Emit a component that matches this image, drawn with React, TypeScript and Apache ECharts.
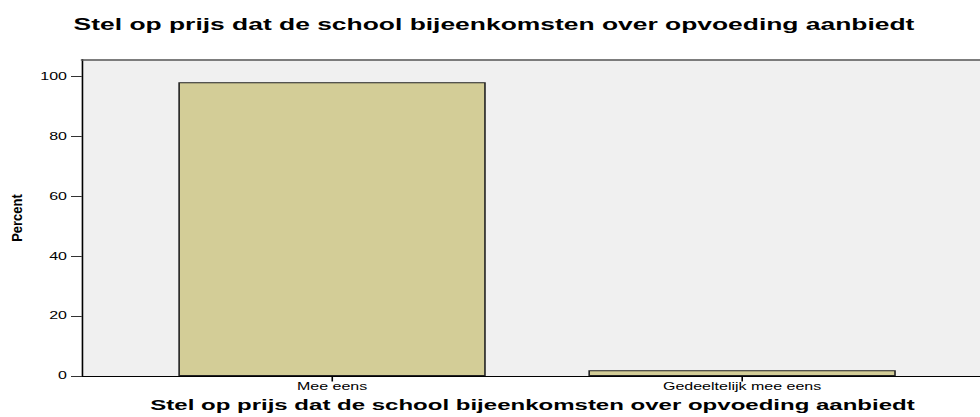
import React, { useEffect, useRef } from "react";
import * as echarts from "echarts";

const categories = ["Mee eens", "Gedeeltelijk mee eens"];
const categoryPositions = [0, 1];
const percentValues = [98.1, 1.9];
const yTicks = [0, 20, 40, 60, 80, 100];
const titleText = "Stel op prijs dat de school bijeenkomsten over opvoeding aanbiedt";
const yAxisName = "Percent";

const SX = 980 / 612;
const INNER_W = 620;
const H = 417;
const FONT = '"Liberation Sans", Arial, Helvetica, sans-serif';
const X_MIN = -0.6103;
const X_MAX = 1.588;

export default function App() {
  const ref = useRef<HTMLDivElement>(null);
  useEffect(() => {
    if (!ref.current) return;
    const chart = echarts.init(ref.current, undefined, { renderer: "svg" });
    chart.setOption({
      animation: false,
      backgroundColor: "#ffffff",
      textStyle: { fontFamily: FONT },
      grid: {
        left: 51.08,
        right: 6,
        top: 59.5,
        bottom: 39.3,
        show: true,
        backgroundColor: "#f0f0f0",
        borderWidth: 0,
      },
      xAxis: [
        {
          type: "value",
          min: X_MIN,
          max: X_MAX,
          splitLine: { show: false },
          axisLine: { show: true, onZero: false, lineStyle: { color: "#000", width: 1 } },
          axisTick: {
            show: true,
            customValues: categoryPositions,
            length: 5.5,
            lineStyle: { color: "#000", width: 1 },
          },
          axisLabel: {
            customValues: categoryPositions,
            formatter: (v: number) => categories[Math.round(v)] ?? "",
            fontSize: 10,
            color: "#000",
            margin: 6,
            fontFamily: FONT,
          },
          name: titleText,
          nameLocation: "middle",
          nameGap: 21,
          nameTextStyle: { fontSize: 15, fontWeight: "bold", color: "#000", fontFamily: FONT },
        },
        {
          type: "value",
          position: "top",
          min: X_MIN,
          max: X_MAX,
          splitLine: { show: false },
          axisLine: { show: true, onZero: false, lineStyle: { color: "#555", width: 1.5 } },
          axisTick: { show: false },
          axisLabel: { show: false },
        },
      ],
      yAxis: {
        type: "value",
        min: 0,
        max: 105.7,
        interval: 20,
        splitLine: { show: false },
        axisLine: { show: true, onZero: false, lineStyle: { color: "#000", width: 1 } },
        axisTick: {
          show: true,
          customValues: yTicks,
          length: 6.75,
          lineStyle: { color: "#333", width: 1 },
        },
        axisLabel: {
          customValues: yTicks,
          fontSize: 10,
          color: "#000",
          margin: 9.25,
          fontFamily: FONT,
        },
      },
      series: [
        {
          type: "bar",
          xAxisIndex: 0,
          barWidth: 192,
          data: categoryPositions.map((x, i) => [x, percentValues[i]]),
          itemStyle: { color: "#d3cd97", borderColor: "#222", borderWidth: 1 },
        },
      ],
      graphic: [
        {
          type: "text",
          x: 308.5,
          y: 24.5,
          style: {
            text: titleText,
            font: `bold 16.5px ${FONT}`,
            fill: "#000",
            align: "center",
            verticalAlign: "middle",
          },
        },
        {
          type: "text",
          x: 10.6,
          y: 218,
          rotation: Math.PI / 2,
          scaleX: 1,
          scaleY: 0.72,
          style: {
            text: yAxisName,
            font: `bold 13px ${FONT}`,
            fill: "#000",
            align: "center",
            verticalAlign: "middle",
          },
        },
      ],
    });
    return () => chart.dispose();
  }, []);
  return (
    <div
      style={{
        position: "fixed",
        left: 0,
        top: 0,
        width: 980,
        height: H,
        overflow: "hidden",
        background: "#ffffff",
      }}
    >
      <div
        ref={ref}
        style={{
          width: INNER_W,
          height: H,
          transform: `scaleX(${SX})`,
          transformOrigin: "0 0",
        }}
      />
    </div>
  );
}
